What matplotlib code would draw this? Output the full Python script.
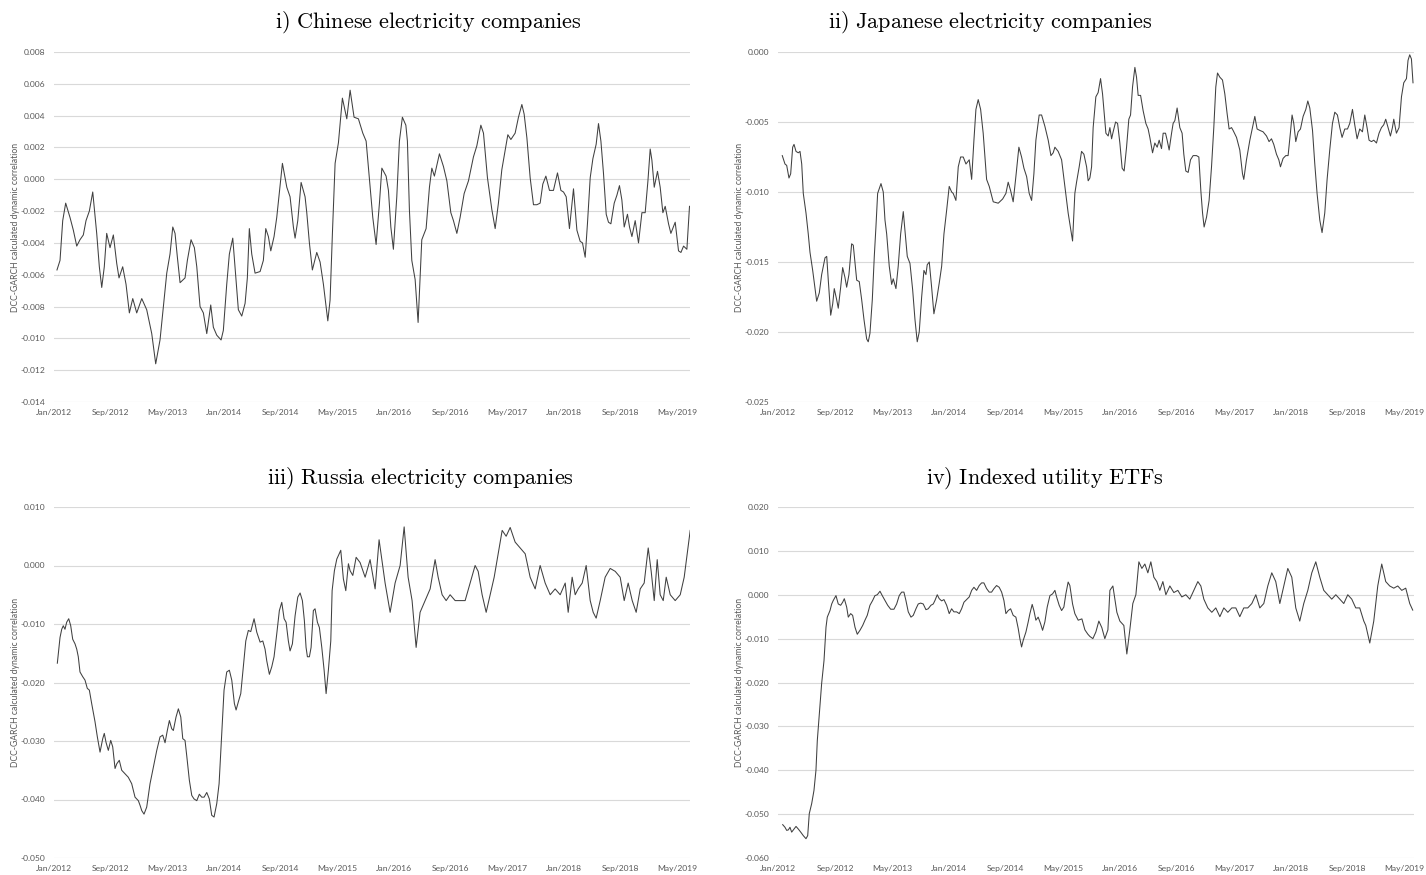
import matplotlib
matplotlib.use("Agg")
import matplotlib.pyplot as plt
import numpy as np

# months counted from Jan/2012
tick_months = [0, 8, 16, 24, 32, 40, 48, 56, 64, 72, 80, 88]
tick_labels = ["Jan/2012", "Sep/2012", "May/2013", "Jan/2014", "Sep/2014", "May/2015",
               "Jan/2016", "Sep/2016", "May/2017", "Jan/2018", "Sep/2018", "May/2019"]

# i) Chinese electricity companies
chn_month = [0.42, 0.85, 1.23, 1.65, 2.26, 2.73, 3.21, 3.67, 4.14, 4.52, 4.99, 5.47, 6.03, 6.40,
             6.74, 7.10, 7.44, 7.91, 8.38, 8.86, 9.18, 9.70, 10.17, 10.64, 11.12, 11.68, 12.39,
             13.09, 13.80, 14.36, 14.97, 15.44, 15.92, 16.38, 16.77, 17.09, 17.42, 17.80, 18.50,
             18.83, 19.35, 19.82, 20.16, 20.62, 21.09, 21.57, 22.13, 22.50, 22.98, 23.59, 23.91,
             24.39, 24.76, 25.24, 25.56, 26.03, 26.51, 26.98, 27.30, 27.58, 27.92, 28.39, 29.10,
             29.56, 29.90, 30.27, 30.61, 31.07, 31.45, 32.25, 32.87, 33.33, 33.80, 34.04, 34.42,
             34.89, 35.45, 35.69, 36.06, 36.48, 37.10, 37.57, 38.04, 38.42, 38.66, 38.98, 39.31,
             39.69, 40.16, 40.72, 41.34, 41.81, 42.37, 42.98, 43.60, 44.07, 44.63, 45.01, 45.48,
             45.95, 46.29, 46.89, 47.22, 47.56, 47.92, 48.40, 48.77, 49.19, 49.68, 49.90, 50.18,
             50.52, 50.99, 51.41, 51.93, 52.54, 53.01, 53.35, 53.71, 54.42, 54.99, 55.47, 56.03,
             56.40, 56.88, 57.34, 57.91, 58.52, 59.22, 59.70, 60.27, 60.64, 61.20, 61.82, 62.29,
             62.75, 63.23, 63.70, 64.08, 64.51, 65.11, 65.58, 66.06, 66.38, 66.77, 67.23, 67.70,
             68.18, 68.64, 69.02, 69.45, 69.96, 70.52, 71.09, 71.57, 71.94, 72.32, 72.78, 73.35,
             73.83, 74.29, 74.62, 75.00, 75.32, 75.71, 76.09, 76.55, 76.88, 77.22, 77.58, 77.97,
             78.29, 78.63, 79.10, 79.48, 79.84, 80.18, 80.51, 80.97, 81.26, 81.60, 82.06, 82.53,
             83.01, 83.47, 83.86, 84.18, 84.42, 84.75, 85.21, 85.59, 85.97, 86.30, 86.77, 87.10,
             87.71, 88.18, 88.52, 88.89, 89.36, 89.73]
chn_corr = [-0.0057, -0.0051, -0.0026, -0.0015, -0.0024, -0.0032, -0.0042, -0.0038, -0.0035,
            -0.0026, -0.0020, -0.0008, -0.0034, -0.0055, -0.0068, -0.0055, -0.0034, -0.0043,
            -0.0035, -0.0053, -0.0062, -0.0055, -0.0066, -0.0084, -0.0075, -0.0084, -0.0075,
            -0.0082, -0.0097, -0.0116, -0.0101, -0.0080, -0.0059, -0.0047, -0.0030, -0.0034,
            -0.0049, -0.0065, -0.0062, -0.0051, -0.0038, -0.0043, -0.0055, -0.0080, -0.0084,
            -0.0097, -0.0079, -0.0093, -0.0098, -0.0101, -0.0095, -0.0066, -0.0047, -0.0037,
            -0.0055, -0.0082, -0.0086, -0.0078, -0.0062, -0.0031, -0.0047, -0.0059, -0.0058,
            -0.0051, -0.0031, -0.0036, -0.0045, -0.0036, -0.0024, 0.0010, -0.0005, -0.0011,
            -0.0030, -0.0037, -0.0026, -0.0002, -0.0011, -0.0021, -0.0040, -0.0057, -0.0046,
            -0.0052, -0.0066, -0.0080, -0.0089, -0.0076, -0.0034, 0.0010, 0.0023, 0.0051,
            0.0038, 0.0056, 0.0039, 0.0038, 0.0029, 0.0024, -0.0005, -0.0024, -0.0041, -0.0015,
            0.0007, 0.0002, -0.0007, -0.0030, -0.0044, -0.0011, 0.0024, 0.0039, 0.0034, 0.0024,
            -0.0019, -0.0051, -0.0063, -0.0090, -0.0038, -0.0031, -0.0005, 0.0007, 0.0002,
            0.0016, 0.0008, -0.0001, -0.0021, -0.0026, -0.0034, -0.0024, -0.0009, -0.0001,
            0.0014, 0.0021, 0.0034, 0.0029, 0.0001, -0.0019, -0.0031, -0.0015, 0.0006, 0.0018,
            0.0028, 0.0025, 0.0029, 0.0039, 0.0047, 0.0041, 0.0026, 0.0001, -0.0016, -0.0016,
            -0.0015, -0.0003, 0.0002, -0.0007, -0.0007, 0.0004, -0.0007, -0.0008, -0.0011,
            -0.0031, -0.0006, -0.0032, -0.0039, -0.0040, -0.0049, -0.0028, 0.0001, 0.0013,
            0.0022, 0.0035, 0.0024, 0.0004, -0.0022, -0.0027, -0.0028, -0.0015, -0.0010,
            -0.0004, -0.0013, -0.0030, -0.0022, -0.0030, -0.0036, -0.0026, -0.0040, -0.0021,
            -0.0021, -0.0001, 0.0019, 0.0012, -0.0005, 0.0005, -0.0005, -0.0021, -0.0017,
            -0.0028, -0.0034, -0.0027, -0.0045, -0.0046, -0.0042, -0.0044, -0.0017]

# ii) Japanese electricity companies
jpn_month = [0.60, 0.98, 1.22, 1.54, 1.78, 2.06, 2.25, 2.53, 2.85, 3.09, 3.33, 3.55, 3.93, 4.25,
             4.49, 4.87, 5.43, 5.80, 6.13, 6.60, 6.84, 7.06, 7.40, 7.68, 7.90, 8.24, 8.46, 8.80,
             9.08, 9.40, 9.64, 9.96, 10.34, 10.57, 11.05, 11.41, 11.75, 12.07, 12.45, 12.67,
             12.91, 13.24, 13.52, 13.75, 13.99, 14.46, 14.78, 15.02, 15.26, 15.62, 15.96, 16.18,
             16.56, 16.88, 17.22, 17.59, 17.82, 18.15, 18.53, 18.91, 19.23, 19.55, 19.83, 20.17,
             20.49, 20.77, 20.95, 21.24, 21.57, 21.89, 22.27, 22.64, 22.98, 23.30, 23.68, 24.04,
             24.38, 24.60, 24.98, 25.31, 25.64, 26.01, 26.39, 26.85, 27.19, 27.51, 27.79, 28.11,
             28.45, 28.81, 29.29, 29.66, 30.22, 30.92, 31.54, 32.00, 32.32, 32.66, 33.02, 33.40,
             33.82, 34.20, 34.53, 34.91, 35.27, 35.61, 35.93, 36.21, 36.67, 37.01, 37.47, 37.94,
             38.32, 38.64, 38.88, 39.34, 39.82, 40.28, 40.74, 41.36, 41.68, 41.92, 42.29, 42.62,
             42.95, 43.33, 43.55, 43.79, 44.03, 44.25, 44.63, 44.95, 45.29, 45.57, 45.80, 46.04,
             46.36, 46.60, 46.84, 47.06, 47.40, 47.68, 48.00, 48.32, 48.60, 48.94, 49.26, 49.50,
             49.78, 50.11, 50.34, 50.57, 50.91, 51.27, 51.65, 51.97, 52.21, 52.59, 52.91, 53.24,
             53.52, 53.85, 54.08, 54.41, 54.64, 54.92, 55.26, 55.48, 55.72, 56.04, 56.42, 56.74,
             56.98, 57.26, 57.59, 57.92, 58.29, 58.76, 59.09, 59.37, 59.61, 59.83, 60.17, 60.53,
             60.87, 61.19, 61.47, 61.71, 62.04, 62.41, 62.74, 63.06, 63.34, 63.68, 63.90, 64.38,
             64.84, 65.22, 65.40, 65.78, 66.25, 66.62, 66.95, 67.27, 67.65, 68.11, 68.59, 68.95,
             69.29, 69.61, 69.99, 70.32, 70.55, 70.92, 71.30, 71.62, 71.96, 72.18, 72.42, 72.70,
             73.03, 73.36, 73.73, 74.11, 74.39, 74.67, 75.05, 75.37, 75.69, 76.07, 76.39, 76.77,
             77.10, 77.47, 77.85, 78.18, 78.55, 78.88, 79.20, 79.58, 79.96, 80.28, 80.66, 80.98,
             81.31, 81.68, 82.06, 82.39, 82.71, 82.99, 83.33, 83.65, 84.03, 84.39, 84.73, 85.05,
             85.33, 85.66, 85.99, 86.27, 86.46, 86.83, 87.20, 87.54, 87.86, 88.24, 88.46, 88.70,
             88.94, 89.16]
jpn_corr = [-0.0074, -0.0080, -0.0081, -0.0090, -0.0087, -0.0068, -0.0066, -0.0071, -0.0072,
            -0.0071, -0.0080, -0.0101, -0.0115, -0.0130, -0.0143, -0.0156, -0.0178, -0.0172,
            -0.0159, -0.0147, -0.0146, -0.0163, -0.0188, -0.0180, -0.0169, -0.0177, -0.0183,
            -0.0168, -0.0154, -0.0161, -0.0168, -0.0159, -0.0137, -0.0138, -0.0163, -0.0164,
            -0.0177, -0.0191, -0.0205, -0.0207, -0.0201, -0.0177, -0.0146, -0.0125, -0.0101,
            -0.0094, -0.0100, -0.0120, -0.0130, -0.0153, -0.0166, -0.0162, -0.0169, -0.0153,
            -0.0130, -0.0114, -0.0127, -0.0146, -0.0151, -0.0170, -0.0191, -0.0207, -0.0200,
            -0.0175, -0.0156, -0.0159, -0.0152, -0.0150, -0.0168, -0.0187, -0.0177, -0.0165,
            -0.0153, -0.0130, -0.0113, -0.0096, -0.0100, -0.0101, -0.0106, -0.0082, -0.0075,
            -0.0075, -0.0080, -0.0077, -0.0091, -0.0063, -0.0041, -0.0034, -0.0041, -0.0058,
            -0.0091, -0.0096, -0.0107, -0.0108, -0.0105, -0.0101, -0.0093, -0.0099, -0.0107,
            -0.0089, -0.0068, -0.0075, -0.0083, -0.0089, -0.0101, -0.0106, -0.0087, -0.0063,
            -0.0045, -0.0045, -0.0053, -0.0063, -0.0074, -0.0072, -0.0068, -0.0071, -0.0077,
            -0.0096, -0.0115, -0.0135, -0.0101, -0.0093, -0.0082, -0.0071, -0.0073, -0.0082,
            -0.0092, -0.0090, -0.0082, -0.0054, -0.0032, -0.0029, -0.0019, -0.0030, -0.0044,
            -0.0058, -0.0060, -0.0054, -0.0062, -0.0057, -0.0050, -0.0051, -0.0065, -0.0083,
            -0.0085, -0.0068, -0.0048, -0.0045, -0.0025, -0.0011, -0.0018, -0.0031, -0.0031,
            -0.0042, -0.0051, -0.0055, -0.0061, -0.0072, -0.0065, -0.0068, -0.0063, -0.0069,
            -0.0058, -0.0058, -0.0063, -0.0070, -0.0058, -0.0051, -0.0049, -0.0040, -0.0054,
            -0.0058, -0.0073, -0.0085, -0.0086, -0.0077, -0.0074, -0.0074, -0.0075, -0.0099,
            -0.0115, -0.0125, -0.0118, -0.0106, -0.0082, -0.0054, -0.0025, -0.0015, -0.0018,
            -0.0020, -0.0030, -0.0044, -0.0055, -0.0054, -0.0056, -0.0061, -0.0070, -0.0087,
            -0.0091, -0.0077, -0.0063, -0.0054, -0.0046, -0.0055, -0.0056, -0.0057, -0.0060,
            -0.0064, -0.0062, -0.0066, -0.0073, -0.0077, -0.0082, -0.0076, -0.0074, -0.0074,
            -0.0057, -0.0045, -0.0051, -0.0064, -0.0057, -0.0055, -0.0046, -0.0041, -0.0035,
            -0.0040, -0.0056, -0.0080, -0.0101, -0.0120, -0.0129, -0.0115, -0.0091, -0.0070,
            -0.0051, -0.0043, -0.0045, -0.0054, -0.0061, -0.0055, -0.0055, -0.0051, -0.0041,
            -0.0052, -0.0062, -0.0055, -0.0057, -0.0045, -0.0054, -0.0063, -0.0064, -0.0063,
            -0.0065, -0.0058, -0.0054, -0.0052, -0.0048, -0.0054, -0.0060, -0.0054, -0.0048,
            -0.0058, -0.0054, -0.0032, -0.0022, -0.0019, -0.0006, -0.0002, -0.0005, -0.0022]

# iii) Russia electricity companies
rus_month = [0.47, 0.61, 0.85, 1.09, 1.31, 1.55, 1.79, 2.08, 2.36, 2.64, 2.97, 3.21, 3.43, 3.67,
             4.05, 4.38, 4.70, 4.99, 5.32, 5.79, 6.12, 6.50, 6.88, 7.10, 7.34, 7.67, 8.01, 8.29,
             8.62, 8.86, 9.22, 9.56, 10.03, 10.49, 10.97, 11.44, 11.91, 12.15, 12.39, 12.71,
             13.09, 13.56, 14.03, 14.51, 14.97, 15.35, 15.68, 16.00, 16.29, 16.62, 16.85, 17.23,
             17.56, 17.90, 18.18, 18.50, 18.74, 19.11, 19.45, 19.77, 20.16, 20.52, 20.86, 21.19,
             21.57, 21.93, 22.27, 22.60, 22.98, 23.31, 23.69, 24.01, 24.39, 24.76, 25.10, 25.47,
             25.71, 26.03, 26.37, 26.74, 27.08, 27.44, 27.78, 28.25, 28.63, 29.10, 29.48, 29.80,
             30.04, 30.41, 30.75, 31.07, 31.45, 31.82, 32.16, 32.49, 32.77, 33.09, 33.33, 33.66,
             34.04, 34.42, 34.75, 35.07, 35.35, 35.59, 35.78, 36.06, 36.30, 36.62, 36.86, 37.19,
             37.47, 37.81, 38.14, 38.42, 38.74, 39.08, 39.27, 39.59, 39.93, 40.16, 40.49, 40.86,
             41.20, 41.57, 41.81, 42.19, 42.66, 43.22, 43.93, 44.63, 45.34, 45.90, 46.75, 47.46,
             48.16, 48.87, 49.44, 50.00, 50.56, 51.13, 51.69, 52.40, 53.11, 53.81, 54.24, 54.80,
             55.37, 55.93, 56.64, 57.34, 58.05, 58.76, 59.46, 59.89, 60.45, 61.02, 61.58, 62.15,
             62.71, 63.28, 63.84, 64.41, 65.11, 65.82, 66.53, 67.23, 67.94, 68.64, 69.35, 70.06,
             70.76, 71.47, 72.18, 72.60, 73.16, 73.59, 74.01, 74.58, 75.14, 75.71, 76.13, 76.55,
             77.12, 77.82, 78.53, 79.24, 79.94, 80.51, 81.07, 81.64, 82.20, 82.77, 83.33, 83.90,
             84.32, 84.75, 85.17, 85.59, 86.02, 86.44, 87.01, 87.71, 88.42, 88.98, 89.41, 89.83]
rus_corr = [-0.0167, -0.0151, -0.0123, -0.0109, -0.0103, -0.0109, -0.0097, -0.0091, -0.0103,
            -0.0126, -0.0134, -0.0143, -0.0156, -0.0182, -0.0190, -0.0196, -0.0210, -0.0213,
            -0.0236, -0.0267, -0.0293, -0.0319, -0.0296, -0.0287, -0.0302, -0.0316, -0.0299,
            -0.0310, -0.0347, -0.0339, -0.0333, -0.0350, -0.0356, -0.0362, -0.0373, -0.0396,
            -0.0402, -0.0410, -0.0419, -0.0425, -0.0413, -0.0373, -0.0345, -0.0316, -0.0293,
            -0.0290, -0.0303, -0.0282, -0.0265, -0.0279, -0.0282, -0.0259, -0.0245, -0.0259,
            -0.0296, -0.0299, -0.0325, -0.0367, -0.0393, -0.0399, -0.0402, -0.0391, -0.0396,
            -0.0396, -0.0388, -0.0399, -0.0427, -0.0430, -0.0407, -0.0373, -0.0287, -0.0213,
            -0.0182, -0.0179, -0.0196, -0.0236, -0.0247, -0.0233, -0.0219, -0.0173, -0.0129,
            -0.0111, -0.0113, -0.0091, -0.0114, -0.0131, -0.0129, -0.0143, -0.0163, -0.0186,
            -0.0173, -0.0156, -0.0117, -0.0077, -0.0063, -0.0091, -0.0097, -0.0129, -0.0146,
            -0.0134, -0.0086, -0.0054, -0.0047, -0.0060, -0.0094, -0.0140, -0.0156, -0.0156,
            -0.0140, -0.0077, -0.0074, -0.0097, -0.0106, -0.0140, -0.0179, -0.0219, -0.0179,
            -0.0129, -0.0043, -0.0009, 0.0011, 0.0017, 0.0026, -0.0023, -0.0043, 0.0003, -0.0009,
            -0.0017, 0.0014, 0.0005, -0.0020, 0.0010, -0.0040, 0.0044, -0.0030, -0.0080, -0.0030,
            0.0000, 0.0066, -0.0020, -0.0060, -0.0140, -0.0080, -0.0060, -0.0040, 0.0010,
            -0.0020, -0.0050, -0.0060, -0.0050, -0.0060, -0.0060, -0.0060, -0.0030, 0.0000,
            -0.0010, -0.0050, -0.0080, -0.0050, -0.0020, 0.0020, 0.0060, 0.0050, 0.0065, 0.0040,
            0.0030, 0.0020, -0.0020, -0.0040, 0.0000, -0.0030, -0.0050, -0.0040, -0.0050,
            -0.0030, -0.0080, -0.0020, -0.0050, -0.0040, -0.0030, 0.0000, -0.0060, -0.0080,
            -0.0090, -0.0060, -0.0020, -0.0005, -0.0010, -0.0020, -0.0060, -0.0030, -0.0060,
            -0.0080, -0.0040, -0.0030, 0.0030, -0.0010, -0.0060, 0.0010, -0.0050, -0.0060,
            -0.0020, -0.0050, -0.0060, -0.0050, -0.0020, 0.0020, 0.0060]

# iv) Indexed utility ETFs
etf_month = [0.66, 0.98, 1.22, 1.45, 1.68, 1.92, 2.25, 2.53, 2.85, 3.19, 3.55, 3.93, 4.17, 4.39,
             4.73, 5.05, 5.33, 5.52, 5.80, 6.13, 6.46, 6.74, 6.92, 7.30, 7.54, 7.76, 8.14, 8.46,
             8.80, 9.08, 9.31, 9.64, 9.87, 10.20, 10.48, 10.81, 11.13, 11.51, 11.89, 12.21, 12.53,
             12.91, 13.29, 13.61, 13.94, 14.32, 14.64, 15.02, 15.40, 15.82, 16.28, 16.66, 17.02,
             17.36, 17.68, 17.96, 18.29, 18.67, 18.99, 19.37, 19.69, 20.03, 20.39, 20.77, 21.09,
             21.47, 21.80, 22.04, 22.36, 22.64, 22.98, 23.30, 23.68, 24.04, 24.38, 24.70, 25.08,
             25.45, 25.78, 26.11, 26.48, 26.85, 27.19, 27.51, 27.89, 28.25, 28.59, 28.91, 29.29,
             29.66, 29.99, 30.32, 30.69, 31.06, 31.40, 31.72, 32.00, 32.32, 32.66, 33.02, 33.40,
             33.73, 33.96, 34.20, 34.43, 34.81, 35.13, 35.37, 35.69, 35.93, 36.21, 36.53, 36.87,
             37.15, 37.47, 37.80, 38.18, 38.55, 38.88, 39.12, 39.48, 39.82, 40.14, 40.42, 40.74,
             40.98, 41.36, 41.68, 42.15, 42.67, 43.09, 43.51, 43.79, 44.21, 44.63, 45.05, 45.47,
             45.89, 46.32, 46.60, 47.02, 47.58, 48.00, 48.56, 48.98, 49.40, 49.82, 50.25, 50.67,
             51.09, 51.51, 51.93, 52.35, 52.77, 53.19, 53.61, 54.04, 54.46, 55.02, 55.58, 56.14,
             56.70, 57.26, 57.82, 58.39, 58.95, 59.37, 59.79, 60.35, 60.91, 61.47, 62.04, 62.60,
             63.16, 63.72, 64.28, 64.84, 65.40, 65.96, 66.53, 67.09, 67.65, 68.21, 68.77, 69.33,
             69.89, 70.46, 71.02, 71.58, 72.14, 72.70, 73.26, 73.82, 74.39, 74.95, 75.51, 76.07,
             76.63, 77.19, 77.75, 78.32, 78.88, 79.44, 80.00, 80.56, 81.12, 81.68, 82.25, 82.53,
             83.09, 83.65, 84.21, 84.77, 85.33, 85.89, 86.46, 87.02, 87.58, 88.14, 88.70, 89.12]
etf_corr = [-0.0524, -0.0530, -0.0537, -0.0536, -0.0530, -0.0541, -0.0534, -0.0528, -0.0534,
            -0.0541, -0.0549, -0.0556, -0.0549, -0.0499, -0.0476, -0.0446, -0.0400, -0.0332,
            -0.0271, -0.0202, -0.0150, -0.0074, -0.0051, -0.0036, -0.0021, -0.0013, -0.0002,
            -0.0021, -0.0024, -0.0017, -0.0009, -0.0028, -0.0051, -0.0043, -0.0047, -0.0074,
            -0.0090, -0.0081, -0.0070, -0.0058, -0.0047, -0.0024, -0.0013, -0.0002, 0.0000,
            0.0008, -0.0002, -0.0013, -0.0024, -0.0033, -0.0033, -0.0021, -0.0002, 0.0006,
            0.0006, -0.0013, -0.0039, -0.0051, -0.0047, -0.0032, -0.0021, -0.0019, -0.0021,
            -0.0034, -0.0032, -0.0024, -0.0021, -0.0013, 0.0000, -0.0009, -0.0014, -0.0011,
            -0.0024, -0.0043, -0.0032, -0.0039, -0.0039, -0.0043, -0.0032, -0.0017, -0.0011,
            -0.0005, 0.0010, 0.0017, 0.0010, 0.0021, 0.0027, 0.0027, 0.0014, 0.0006, 0.0006,
            0.0014, 0.0021, 0.0017, 0.0006, -0.0013, -0.0043, -0.0036, -0.0032, -0.0047, -0.0051,
            -0.0077, -0.0100, -0.0119, -0.0104, -0.0085, -0.0062, -0.0043, -0.0022, -0.0036,
            -0.0058, -0.0051, -0.0066, -0.0081, -0.0062, -0.0028, -0.0002, 0.0002, 0.0010,
            -0.0005, -0.0024, -0.0036, -0.0028, 0.0002, 0.0029, 0.0021, -0.0021, -0.0043,
            -0.0058, -0.0055, -0.0080, -0.0090, -0.0095, -0.0100, -0.0085, -0.0060, -0.0075,
            -0.0100, -0.0080, 0.0010, 0.0020, -0.0040, -0.0060, -0.0070, -0.0135, -0.0080,
            -0.0020, 0.0000, 0.0075, 0.0060, 0.0070, 0.0050, 0.0075, 0.0040, 0.0030, 0.0010,
            0.0030, 0.0000, 0.0020, 0.0005, 0.0010, -0.0005, 0.0000, -0.0010, 0.0010, 0.0030,
            0.0020, -0.0010, -0.0030, -0.0040, -0.0030, -0.0050, -0.0030, -0.0040, -0.0030,
            -0.0030, -0.0050, -0.0030, -0.0030, -0.0020, 0.0000, -0.0030, -0.0020, 0.0020,
            0.0050, 0.0030, -0.0020, 0.0020, 0.0060, 0.0040, -0.0030, -0.0060, -0.0020, 0.0010,
            0.0050, 0.0075, 0.0040, 0.0010, 0.0000, -0.0010, 0.0000, -0.0010, -0.0020, 0.0000,
            -0.0010, -0.0030, -0.0030, -0.0060, -0.0070, -0.0110, -0.0060, 0.0020, 0.0070,
            0.0030, 0.0020, 0.0015, 0.0020, 0.0010, 0.0015, -0.0020, -0.0035]

panels = [
    ("i) Chinese electricity companies", chn_month, chn_corr, (-0.014, 0.008), 0.002, 89.8),
    ("ii) Japanese electricity companies", jpn_month, jpn_corr, (-0.025, 0.0), 0.005, 89.3),
    ("iii) Russia electricity companies", rus_month, rus_corr, (-0.05, 0.01), 0.01, 89.8),
    ("iv) Indexed utility ETFs", etf_month, etf_corr, (-0.06, 0.02), 0.01, 89.3),
]

plt.rcParams['mathtext.fontset'] = 'cm'
W, H = 1426, 875
fig = plt.figure(figsize=(W / 100, H / 100), dpi=100)

# axes boxes in pixels: left, top, right, bottom
boxes = [(54, 52, 690, 402), (778, 52, 1414, 402), (54, 507, 690, 858), (778, 507, 1414, 858)]
# title left edge and baseline, pixels
title_pos = [(275, 28), (828, 28), (267, 484), (926, 484)]

grey = "#595959"
for (title, month, corr, ylim, step, xmax), (l, t, r, b), (tx, ty) in zip(panels, boxes, title_pos):
    ax = fig.add_axes([l / W, 1 - b / H, (r - l) / W, (b - t) / H])
    ax.plot(month, corr, color="#404040", lw=0.75)
    ax.set_xlim(0, xmax)
    ax.set_ylim(*ylim)
    yt = np.arange(ylim[0], ylim[1] + step / 2, step)
    ax.set_yticks(yt)
    ax.set_yticklabels([("%.3f" % v).replace("-0.000", "0.000") for v in yt])
    ax.set_xticks(tick_months)
    ax.set_xticklabels(tick_labels)
    ax.grid(axis="y", color="#d9d9d9", lw=0.8)
    ax.set_axisbelow(True)
    for s in ax.spines.values():
        s.set_visible(False)
    ax.tick_params(length=0, labelsize=6.1, labelcolor=grey)
    ax.tick_params(axis="x", pad=5)
    ax.tick_params(axis="y", pad=6.3)
    for lab in ax.get_xticklabels() + ax.get_yticklabels():
        lab.set_fontfamily("Lato")
    ax.set_ylabel("DCC-GARCH calculated dynamic correlation", fontsize=6.2, color=grey,
                  fontfamily="Lato", labelpad=0)
    words = title.split(" ")
    mt = r"$\mathrm{" + r"\ ".join(words) + "}$"
    fig.text(tx / W, 1 - ty / H, mt, ha="left", va="baseline", fontsize=16)

fig.savefig("out.png", dpi=100)
